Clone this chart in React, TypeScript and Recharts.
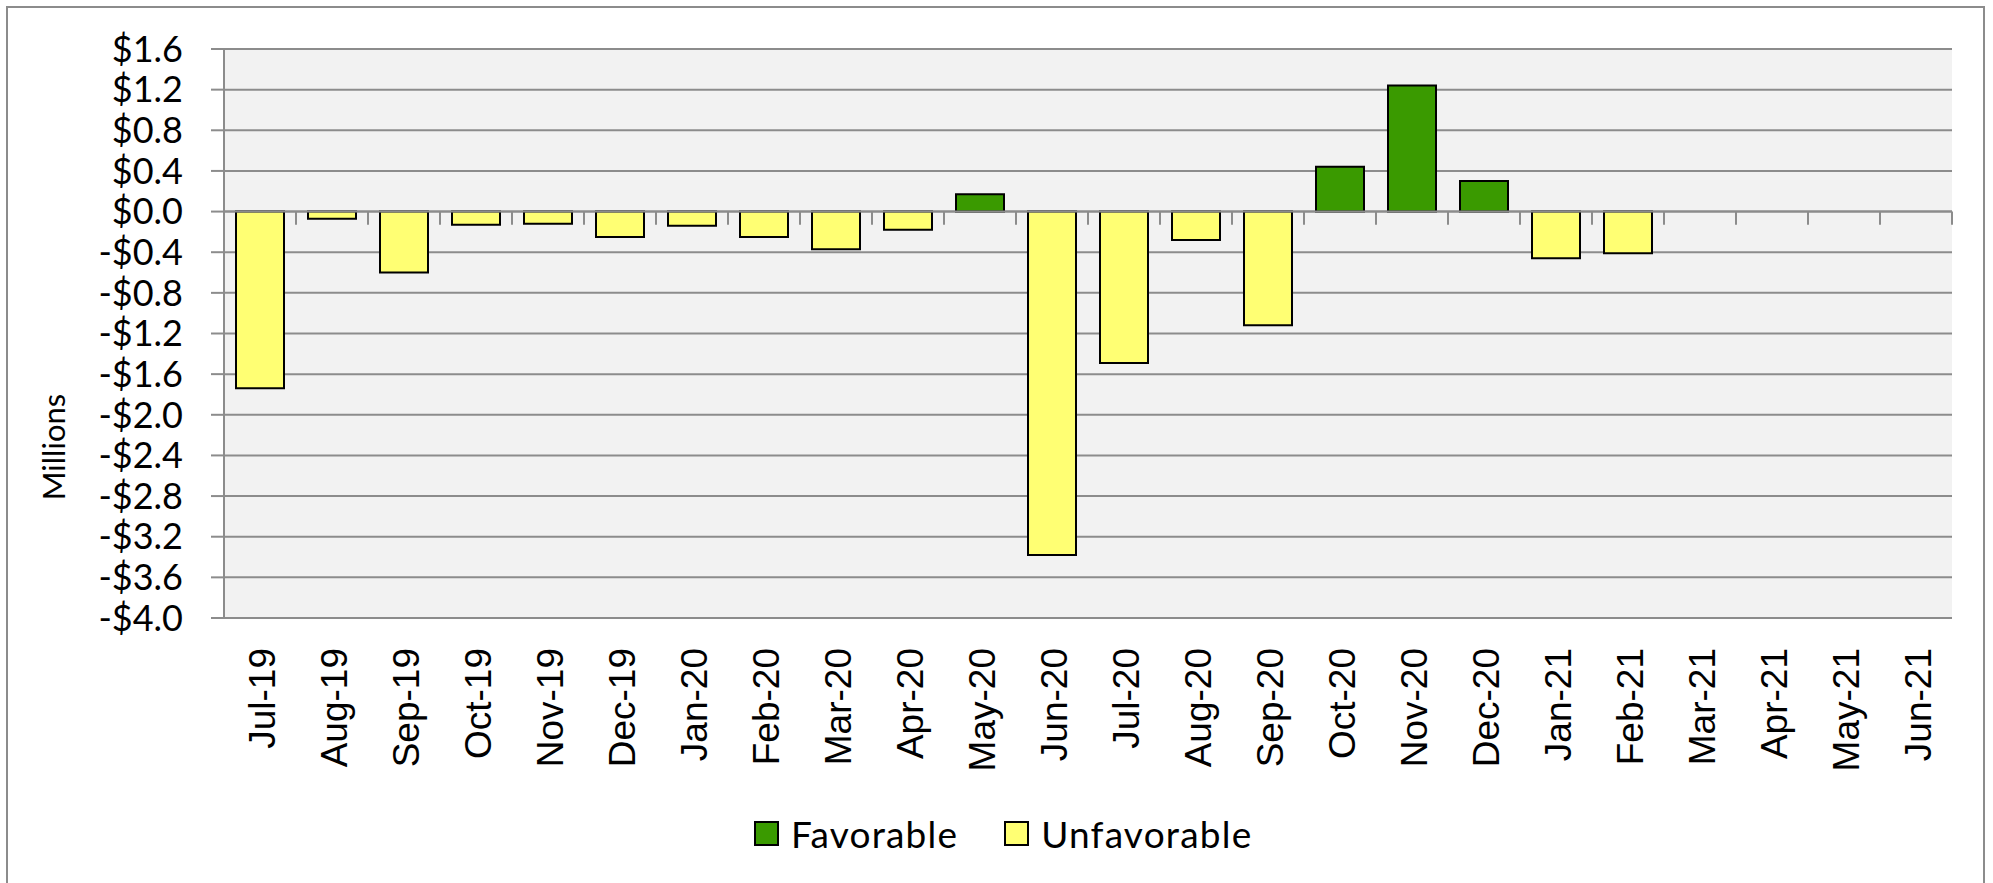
import React from 'react';
import { BarChart, Bar, XAxis, YAxis, CartesianGrid, ReferenceLine, Legend } from 'recharts';

// Monthly budget variance, in millions of dollars
const months = [
  'Jul-19', 'Aug-19', 'Sep-19', 'Oct-19', 'Nov-19', 'Dec-19',
  'Jan-20', 'Feb-20', 'Mar-20', 'Apr-20', 'May-20', 'Jun-20',
  'Jul-20', 'Aug-20', 'Sep-20', 'Oct-20', 'Nov-20', 'Dec-20',
  'Jan-21', 'Feb-21', 'Mar-21', 'Apr-21', 'May-21', 'Jun-21',
];

const favorable: (number | null)[] = [
  null, null, null, null, null, null,
  null, null, null, null, 0.17, null,
  null, null, null, 0.44, 1.24, 0.3,
  null, null, null, null, null, null,
];

const unfavorable: (number | null)[] = [
  -1.74, -0.07, -0.6, -0.13, -0.12, -0.25,
  -0.14, -0.25, -0.37, -0.18, null, -3.38,
  -1.49, -0.28, -1.12, null, null, null,
  -0.46, -0.41, null, null, null, null,
];

const yTicks = [1.6, 1.2, 0.8, 0.4, 0, -0.4, -0.8, -1.2, -1.6, -2.0, -2.4, -2.8, -3.2, -3.6, -4.0];

const seriesNames = ['Favorable', 'Unfavorable'];
const seriesColors = ['#3A9A00', '#FFFF73'];

const data = months.map((month, i) => ({
  month,
  favorable: favorable[i],
  unfavorable: unfavorable[i],
}));

const GRID = '#8c8c8c';
const AXIS_FONT = "Lato, 'Open Sans', sans-serif";
const MONTH_FONT = "'Liberation Sans', Arial, sans-serif";
// length of the small category ticks that hang below the zero line (in $M)
const ZERO_TICK = 0.13;

const formatDollars = (v: number) => {
  const a = Math.abs(v).toFixed(1);
  return v < -1e-9 ? `-$${a}` : `$${a}`;
};

const MonthTick = (props: any) => {
  const { x, y, payload } = props;
  return (
    <text
      transform={`translate(${x + 15},${y + 30}) rotate(-90)`}
      textAnchor="end"
      fontFamily={MONTH_FONT}
      fontSize={37}
      fill="#000"
    >
      {payload.value}
    </text>
  );
};

const AxisTitle = () => (
  <text
    transform="translate(65,447) rotate(-90)"
    textAnchor="middle"
    fontFamily={AXIS_FONT}
    fontSize={31}
    fill="#000"
  >
    Millions
  </text>
);

const LegendContent = (props: any) => {
  const { payload = [] } = props;
  return (
    <div style={{ display: 'flex', alignItems: 'center' }}>
      {payload.map((entry: any, i: number) => (
        <div key={i} style={{ display: 'flex', alignItems: 'center', marginRight: 46 }}>
          <span
            style={{
              display: 'inline-block',
              width: 25,
              height: 25,
              boxSizing: 'border-box',
              background: entry.color || entry.payload?.fill,
              border: '2px solid #000',
              marginRight: 12,
            }}
          />
          <span
            style={{
              fontFamily: AXIS_FONT,
              fontSize: 37,
              lineHeight: '37px',
              letterSpacing: '1.2px',
              color: '#000',
              whiteSpace: 'nowrap',
            }}
          >
            {entry.value}
          </span>
        </div>
      ))}
    </div>
  );
};

export default function App() {
  return (
    <div
      style={{
        position: 'absolute',
        left: 0,
        top: 0,
        width: 1993,
        height: 883,
        overflow: 'hidden',
        background: '#fff',
      }}
    >
      <div
        style={{
          position: 'absolute',
          left: 6,
          top: 6,
          width: 1979,
          height: 877,
          boxSizing: 'border-box',
          borderTop: `2px solid ${GRID}`,
          borderLeft: `2px solid ${GRID}`,
          borderRight: `2px solid ${GRID}`,
        }}
      />
      <div style={{ position: 'absolute', left: 0, top: 0 }}>
        <BarChart
          width={1993}
          height={883}
          data={data}
          margin={{ top: 49, right: 41, bottom: 0, left: 0 }}
          barCategoryGap="16.67%"
          stackOffset="sign"
        >
          <CartesianGrid vertical={false} stroke={GRID} strokeWidth={2} fill="#f2f2f2" />
          <XAxis
            dataKey="month"
            height={265}
            axisLine={false}
            tickLine={false}
            tickSize={0}
            tickMargin={0}
            interval={0}
            tick={<MonthTick />}
          />
          <YAxis
            width={224}
            domain={[-4, 1.6]}
            ticks={yTicks}
            interval={0}
            allowDataOverflow
            tickFormatter={formatDollars}
            axisLine={{ stroke: GRID, strokeWidth: 2 }}
            tickLine={{ stroke: GRID, strokeWidth: 2 }}
            tickSize={13}
            tickMargin={28}
            tick={{ fontFamily: AXIS_FONT, fontSize: 36, fill: '#000' }}
            label={<AxisTitle />}
          />
          <Bar
            dataKey="favorable"
            name={seriesNames[0]}
            stackId="v"
            fill={seriesColors[0]}
            stroke="#000"
            strokeWidth={2}
            isAnimationActive={false}
          />
          <Bar
            dataKey="unfavorable"
            name={seriesNames[1]}
            stackId="v"
            fill={seriesColors[1]}
            stroke="#000"
            strokeWidth={2}
            isAnimationActive={false}
          />
          {months.map((m) => (
            <ReferenceLine
              key={`t-${m}`}
              segment={[{ x: m, y: 0 }, { x: m, y: -ZERO_TICK }]}
              position="start"
              stroke={GRID}
              strokeWidth={2}
            />
          ))}
          <ReferenceLine
            segment={[{ x: months[months.length - 1], y: 0 }, { x: months[months.length - 1], y: -ZERO_TICK }]}
            position="end"
            stroke={GRID}
            strokeWidth={2}
          />
          <ReferenceLine y={0} stroke={GRID} strokeWidth={2} />
          <Legend
            verticalAlign="middle"
            align="center"
            layout="horizontal"
            wrapperStyle={{ left: 754, top: 815, width: 700 }}
            content={<LegendContent />}
          />
        </BarChart>
      </div>
    </div>
  );
}
